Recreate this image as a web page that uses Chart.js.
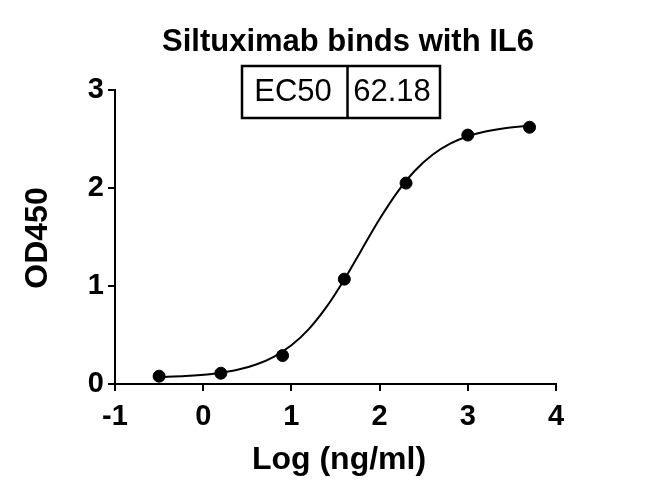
<!DOCTYPE html>
<html><head><meta charset="utf-8">
<script src="https://cdn.jsdelivr.net/npm/chart.js@4"></script>
<style>html,body{margin:0;padding:0;background:#fff}#c{display:block}</style>
</head><body>
<canvas id="c" width="650" height="498"></canvas>
<script>
const titleText = "Siltuximab binds with IL6";
const ec50Label = "EC50";
const ec50Value = "62.18";
const xTitle = "Log (ng/ml)";
const yTitle = "OD450";
const logConc = [-0.5, 0.2, 0.9, 1.6, 2.3, 3.0, 3.7];
const od450 = [0.08, 0.11, 0.29, 1.07, 2.05, 2.54, 2.62];
const curveX = [-0.5, -0.2, 0.1, 0.4, 0.6, 0.8, 1.0, 1.2, 1.4, 1.6, 1.8, 2.0, 2.2, 2.4, 2.6, 2.8, 3.0, 3.2, 3.4, 3.7];
const curveY = [0.070, 0.081, 0.103, 0.147, 0.199, 0.278, 0.395, 0.563, 0.789, 1.067, 1.376, 1.683, 1.956, 2.176, 2.339, 2.452, 2.528, 2.577, 2.608, 2.635];
const xTicks = [-1, 0, 1, 2, 3, 4];
const yTicks = [0, 1, 2, 3];

const FONT = "'Liberation Sans', Arial, sans-serif";
const PAD = {left: 10, right: 94, top: 90, bottom: 10};

const textPlugin = {
  id: 'texts',
  afterDraw(chart) {
    const ctx = chart.ctx;
    ctx.save();
    ctx.fillStyle = '#000';
    ctx.textAlign = 'center';
    ctx.textBaseline = 'middle';
    ctx.font = "bold 31px " + FONT;
    ctx.fillText(titleText, 348, 42);
    // EC50 box
    ctx.strokeStyle = '#000';
    ctx.lineWidth = 2.5;
    ctx.strokeRect(242, 66, 198, 52);
    ctx.beginPath(); ctx.moveTo(347.5, 66); ctx.lineTo(347.5, 118); ctx.stroke();
    ctx.font = "31px " + FONT;
    ctx.fillText(ec50Label, 293, 92.5);
    ctx.fillText(ec50Value, 392, 92.5);
    // axis titles
    ctx.font = "bold 32px " + FONT;
    ctx.fillText(xTitle, 339, 460);
    ctx.translate(38, 238);
    ctx.rotate(-Math.PI / 2);
    ctx.fillText(yTitle, 0, 0);
    ctx.restore();
  }
};

new Chart(document.getElementById('c'), {
  type: 'scatter',
  data: {
    datasets: [
      {
        data: logConc.map((x, i) => ({x, y: od450[i]})),
        backgroundColor: '#000', borderColor: '#000',
        pointRadius: 6, pointHoverRadius: 6, showLine: false, order: 0
      },
      {
        data: curveX.map((x, i) => ({x, y: curveY[i]})),
        borderColor: '#000', borderWidth: 2, pointRadius: 0, showLine: true,
        cubicInterpolationMode: 'monotone', order: 1
      }
    ]
  },
  options: {
    responsive: false, animation: false, devicePixelRatio: 1,
    layout: {padding: PAD},
    plugins: {legend: {display: false}, tooltip: {enabled: false}, title: {display: false}},
    scales: {
      x: {
        type: 'linear', min: -1, max: 4,
        afterBuildTicks: s => { s.ticks = xTicks.map(v => ({value: v})); },
        afterFit: s => { s.height = 498 - 384 - PAD.bottom; },
        grid: {drawOnChartArea: false, color: '#000', lineWidth: 2, tickLength: 7, tickWidth: 2},
        border: {color: '#000', width: 2},
        ticks: {color: '#000', font: {family: FONT, size: 29, weight: 'bold'}, padding: 9, maxRotation: 0}
      },
      y: {
        type: 'linear', min: 0, max: 3,
        afterBuildTicks: s => { s.ticks = yTicks.map(v => ({value: v})); },
        afterFit: s => { s.width = 115 - PAD.left; },
        grid: {drawOnChartArea: false, color: '#000', lineWidth: 2, tickLength: 7, tickWidth: 2},
        border: {color: '#000', width: 2},
        ticks: {color: '#000', font: {family: FONT, size: 29, weight: 'bold'}, padding: 4}
      }
    }
  },
  plugins: [textPlugin]
});
</script>
</body></html>
